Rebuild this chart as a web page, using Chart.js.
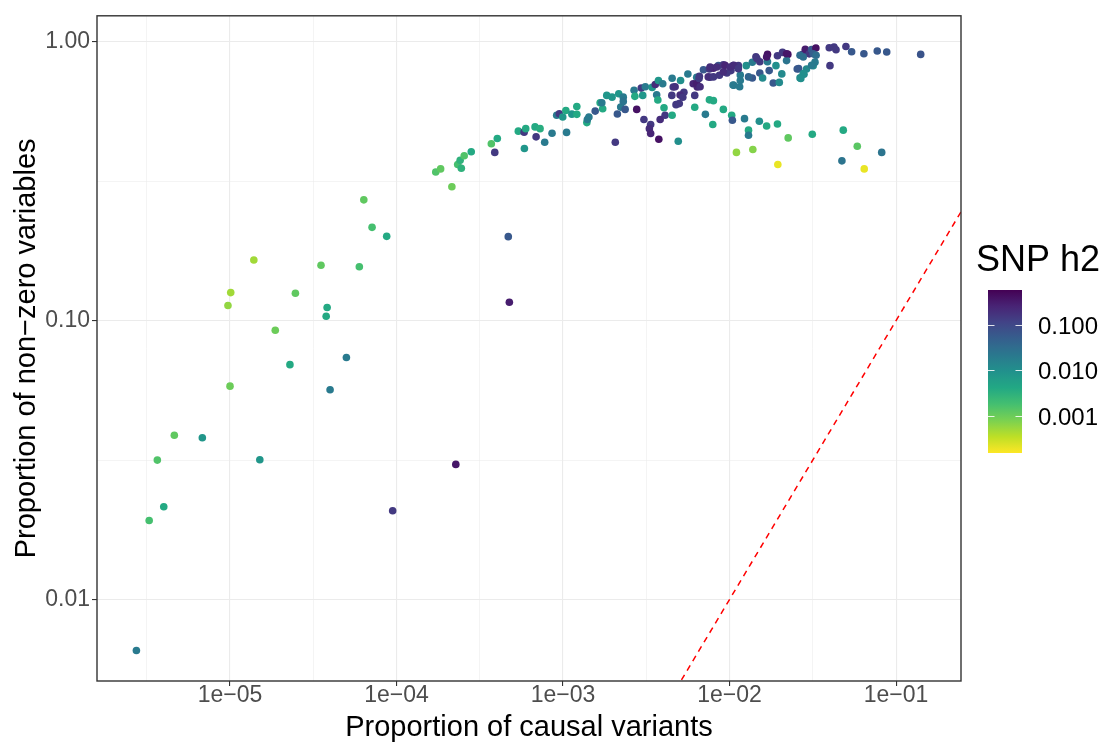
<!DOCTYPE html>
<html>
<head>
<meta charset="utf-8">
<title>SNP h2</title>
<script src="https://cdn.jsdelivr.net/npm/chart.js"></script>
<style>
  html, body { margin: 0; padding: 0; background: #ffffff; }
  canvas { display: block; }
</style>
</head>
<body>
<canvas id="myChart" width="1113" height="745"></canvas>
<script>
// Proporción de variantes causales (eje X)
var proporcionCausal = [
    2.74e-6, 3.27e-6, 3.66e-6, 4.0e-6, 4.63e-6, 6.82e-6, 1.01e-5, 9.72e-6, 1.0e-5, 1.39e-5,
    1.51e-5, 1.87e-5, 2.29e-5, 2.47e-5, 3.52e-5, 3.78e-5, 3.83e-5, 3.99e-5, 5.0e-5, 5.98e-5,
    6.36e-5, 7.13e-5, 8.73e-5, 9.48e-5, 2.27e-4, 4.69e-4, 4.76e-4, 2.15e-4, 1.72e-4, 1.84e-4,
    2.33e-4, 2.45e-4, 2.41e-4, 2.55e-4, 2.81e-4, 3.89e-4, 3.71e-4, 4.03e-4, 5.39e-4, 5.84e-4,
    5.97e-4, 5.86e-4, 6.89e-4, 6.79e-4, 7.28e-4, 7.76e-4, 8.59e-4, 1.05e-3, 9.16e-4, 9.5e-4,
    9.96e-4, 1.04e-3, 1.13e-3, 1.21e-3, 1.21e-3, 1.39e-3, 1.40e-3, 1.43e-3, 1.56e-3, 1.67e-3,
    1.73e-3, 1.71e-3, 1.83e-3, 1.97e-3, 2.06e-3, 2.12e-3, 2.16e-3, 2.22e-3, 2.30e-3, 2.30e-3,
    2.36e-3, 2.67e-3, 2.70e-3, 2.77e-3, 2.95e-3, 3.01e-3, 3.06e-3, 3.12e-3, 3.36e-3, 3.30e-3,
    3.36e-3, 3.43e-3, 3.65e-3, 3.71e-3, 3.76e-3, 3.58e-3, 3.74e-3, 3.97e-3, 4.04e-3, 4.10e-3,
    3.83e-3, 4.52e-3, 4.50e-3, 4.52e-3, 4.59e-3, 4.77e-3, 4.92e-3, 4.99e-3, 5.08e-3, 5.32e-3,
    5.62e-3, 6.05e-3, 6.18e-3, 6.40e-3, 6.35e-3, 6.18e-3, 6.59e-3, 6.97e-3, 7.16e-3, 7.57e-3,
    8.0e-3, 7.93e-3, 7.57e-3, 8.0e-3, 7.64e-3, 8.57e-3, 9.18e-3, 9.18e-3, 9.64e-3, 1.02e-2,
    1.03e-2, 1.04e-2, 1.06e-2, 1.05e-2, 1.13e-2, 1.16e-2, 1.16e-2, 1.23e-2, 1.26e-2, 1.30e-2,
    1.30e-2, 1.37e-2, 1.37e-2, 1.38e-2, 1.10e-2, 1.44e-2, 1.51e-2, 1.52e-2, 1.52e-2, 1.58e-2,
    1.67e-2, 1.69e-2, 1.69e-2, 1.73e-2, 1.83e-2, 1.90e-2, 1.94e-2, 1.94e-2, 1.95e-2, 1.99e-2,
    2.06e-2, 2.08e-2, 2.24e-2, 2.25e-2, 2.20e-2, 2.55e-2, 2.65e-2, 2.75e-2, 2.85e-2, 2.80e-2,
    2.90e-2, 3.01e-2, 3.11e-2, 3.18e-2, 3.26e-2, 3.30e-2, 3.14e-2, 4.01e-2, 3.97e-2, 4.24e-2,
    4.36e-2, 4.73e-2, 4.82e-2, 5.0e-2, 5.41e-2, 5.85e-2, 6.41e-2, 6.44e-2, 7.71e-2, 8.2e-2,
    8.79e-2, 0.1406, 4.71e-3, 5.05e-3, 5.24e-3, 6.35e-3, 6.65e-3, 6.56e-3, 7.64e-3, 7.45e-3,
    8.0e-3, 8.38e-3, 8.69e-3, 9.18e-3, 9.40e-3, 1.01e-2, 1.06e-2, 1.13e-2, 1.05e-2, 1.15e-2,
    1.30e-2, 1.46e-2, 1.67e-2, 2.20e-2, 2.65e-2, 2.77e-2, 3.18e-2, 3.31e-2, 2.60e-2, 2.77e-2,
    2.68e-2, 3.11e-2
];

// Proporción de variables no nulas (eje Y)
var proporcionNoNula = [
    0.00656, 0.0192, 0.0316, 0.0215, 0.0388, 0.038, 0.126, 0.1133, 0.0582, 0.165,
    0.0317, 0.0923, 0.0695, 0.1253, 0.158, 0.1037, 0.1114, 0.0565, 0.0737, 0.156,
    0.271, 0.216, 0.2005, 0.0208, 0.0305, 0.200, 0.1164, 0.302, 0.341, 0.350,
    0.363, 0.352, 0.376, 0.390, 0.403, 0.401, 0.431, 0.450, 0.478, 0.474,
    0.488, 0.414, 0.456, 0.495, 0.488, 0.436, 0.470, 0.473, 0.545, 0.552,
    0.537, 0.567, 0.550, 0.549, 0.586, 0.513, 0.526, 0.537, 0.564, 0.604,
    0.575, 0.604, 0.642, 0.633, 0.436, 0.551, 0.651, 0.583, 0.633, 0.611,
    0.572, 0.670, 0.637, 0.572, 0.682, 0.642, 0.526, 0.690, 0.505, 0.488,
    0.469, 0.686, 0.645, 0.618, 0.447, 0.703, 0.726, 0.707, 0.580, 0.545,
    0.526, 0.740, 0.642, 0.545, 0.688, 0.595, 0.440, 0.600, 0.726, 0.659,
    0.766, 0.707, 0.642, 0.688, 0.746, 0.582, 0.752, 0.794, 0.549, 0.619,
    0.615, 0.505, 0.799, 0.803, 0.746, 0.821, 0.826, 0.572, 0.773, 0.788,
    0.545, 0.523, 0.698, 0.821, 0.821, 0.760, 0.726, 0.530, 0.821, 0.482,
    0.462, 0.741, 0.844, 0.411, 0.401, 0.884, 0.519, 0.848, 0.773, 0.741,
    0.499, 0.901, 0.848, 0.788, 0.711, 0.821, 0.891, 0.507, 0.363, 0.715,
    0.767, 0.916, 0.901, 0.452, 0.856, 0.799, 0.742, 0.901, 0.940, 0.765,
    0.799, 0.905, 0.938, 0.821, 0.845, 0.950, 0.466, 0.821, 0.952, 0.957,
    0.936, 0.374, 0.482, 0.962, 0.921, 0.422, 0.906, 0.350, 0.926, 0.401,
    0.919, 0.901, 0.690, 0.644, 0.632, 0.708, 0.690, 0.738, 0.812, 0.748,
    0.748, 0.812, 0.758, 0.780, 0.823, 0.812, 0.823, 0.801, 0.699, 0.690,
    0.748, 0.870, 0.882, 0.906, 0.894, 0.882, 0.905, 0.894, 0.801, 0.769,
    0.738, 0.823
];

// Heredabilidad SNP de cada rasgo (color)
var snpH2 = [
    0.02, 0.0018, 0.0015, 0.004, 0.0012, 0.008, 0.0005, 0.0006, 0.001, 0.0005,
    0.008, 0.001, 0.004, 0.0012, 0.0012, 0.004, 0.004, 0.02, 0.02, 0.0018,
    0.0012, 0.0018, 0.004, 0.15, 0.35, 0.06, 0.3, 0.001, 0.0015, 0.0012,
    0.0018, 0.003, 0.003, 0.0015, 0.004, 0.15, 0.0015, 0.004, 0.004, 0.15,
    0.004, 0.008, 0.15, 0.004, 0.0035, 0.02, 0.02, 0.02, 0.02, 0.15,
    0.008, 0.004, 0.008, 0.004, 0.004, 0.004, 0.02, 0.02, 0.06, 0.004,
    0.004, 0.02, 0.008, 0.008, 0.15, 0.06, 0.008, 0.02, 0.02, 0.025,
    0.06, 0.02, 0.004, 0.4, 0.15, 0.008, 0.15, 0.02, 0.15, 0.2,
    0.25, 0.008, 0.02, 0.004, 0.4, 0.2, 0.008, 0.02, 0.004, 0.15,
    0.2, 0.02, 0.15, 0.004, 0.15, 0.15, 0.01, 0.15, 0.01, 0.15,
    0.02, 0.25, 0.15, 0.25, 0.02, 0.004, 0.15, 0.06, 0.02, 0.004,
    0.004, 0.004, 0.15, 0.25, 0.15, 0.06, 0.15, 0.004, 0.15, 0.15,
    0.004, 0.06, 0.02, 0.15, 0.15, 0.02, 0.02, 0.02, 0.01, 0.004,
    0.02, 0.06, 0.02, 0.0007, 0.0006, 0.15, 0.01, 0.15, 0.06, 0.012,
    0.004, 0.4, 0.02, 0.06, 0.06, 0.01, 0.15, 0.004, 0.0002, 0.012,
    0.012, 0.15, 0.4, 0.0012, 0.025, 0.06, 0.012, 0.15, 0.3, 0.012,
    0.012, 0.15, 0.06, 0.012, 0.02, 0.4, 0.004, 0.15, 0.15, 0.15,
    0.15, 0.025, 0.004, 0.15, 0.06, 0.0013, 0.06, 0.0002, 0.06, 0.025,
    0.06, 0.07, 0.18, 0.2, 0.15, 0.3, 0.2, 0.15, 0.2, 0.2,
    0.15, 0.2, 0.15, 0.2, 0.25, 0.2, 0.2, 0.15, 0.02, 0.02,
    0.04, 0.15, 0.35, 0.35, 0.03, 0.03, 0.05, 0.03, 0.06, 0.01,
    0.01, 0.02
];

// Línea de referencia y = x (extremos)
var lineaIdentidad = [1e-3, 1];

// Marcas y etiquetas de los ejes
var ticksX = [1e-5, 1e-4, 1e-3, 1e-2, 1e-1];
var etiquetasX = ["1e\u221205", "1e\u221204", "1e\u221203", "1e\u221202", "1e\u221201"];
var ticksY = [0.01, 0.1, 1];
var etiquetasY = ["0.01", "0.10", "1.00"];

// Escala de color (leyenda)
var ticksLeyenda = [0.1, 0.01, 0.001];
var etiquetasLeyenda = ["0.100", "0.010", "0.001"];

// Límites de ejes y de la escala de color
var limitesX = [1.589e-6, 0.2455];
var limitesY = [0.00510, 1.239];
var limitesH2 = [1.55e-4, 0.58];

var fuente = "'Liberation Sans', Arial, Helvetica, sans-serif";
Chart.defaults.font.family = fuente;

// Paleta viridis
var viridis = ["#440154", "#482475", "#414487", "#355f8d", "#2a788e", "#21918c",
               "#22a884", "#44bf70", "#7ad151", "#bddf26", "#fde725"];

function hexARgb(hex) {
    return [parseInt(hex.substr(1, 2), 16), parseInt(hex.substr(3, 2), 16), parseInt(hex.substr(5, 2), 16)];
}

function colorViridis(t) {
    t = Math.max(0, Math.min(1, t));
    var pos = t * (viridis.length - 1);
    var i = Math.min(Math.floor(pos), viridis.length - 2);
    var f = pos - i;
    var a = hexARgb(viridis[i]);
    var b = hexARgb(viridis[i + 1]);
    var c = a.map(function (v, k) {
        return Math.round(v + (b[k] - v) * f);
    });
    return "rgb(" + c[0] + "," + c[1] + "," + c[2] + ")";
}

// Posición relativa (0 = arriba/morado, 1 = abajo/amarillo) en la escala log de h2
function posicionH2(h) {
    var lmax = Math.log10(limitesH2[1]);
    var lmin = Math.log10(limitesH2[0]);
    return (lmax - Math.log10(h)) / (lmax - lmin);
}

// Marcas mayores + menores (punto medio logarítmico) dentro de los límites
function construirTicks(mayores, limites) {
    var lista = [];
    var raiz = Math.sqrt(10);
    mayores.forEach(function (m) {
        lista.push({ value: m, major: true });
        lista.push({ value: m * raiz, major: false });
        lista.push({ value: m / raiz, major: false });
    });
    var vistos = {};
    return lista.filter(function (t) {
        var clave = t.value.toPrecision(6);
        if (vistos[clave] || t.value < limites[0] || t.value > limites[1]) {
            return false;
        }
        vistos[clave] = true;
        return true;
    }).sort(function (a, b) {
        return a.value - b.value;
    });
}

function etiquetaDe(mayores, etiquetas, valor) {
    for (var i = 0; i < mayores.length; i++) {
        if (Math.abs(mayores[i] - valor) / mayores[i] < 1e-6) {
            return etiquetas[i];
        }
    }
    return "";
}

function opcionesRejilla() {
    return {
        color: "#ebebeb",
        lineWidth: function (ctx) {
            return ctx.tick && ctx.tick.major ? 1.1 : 0.55;
        },
        drawTicks: true,
        tickLength: 5,
        tickWidth: 1.1,
        tickColor: function (ctx) {
            return ctx.tick && ctx.tick.major ? "#333333" : "rgba(0,0,0,0)";
        }
    };
}

// Fondo, borde del panel y barra de color
var pluginPanel = {
    id: "panel",
    beforeDraw: function (chart) {
        var c = chart.ctx;
        c.save();
        c.fillStyle = "#ffffff";
        c.fillRect(0, 0, chart.width, chart.height);
        c.restore();
    },
    afterDatasetsDraw: function (chart) {
        var c = chart.ctx;
        var a = chart.chartArea;
        c.save();
        c.strokeStyle = "#333333";
        c.lineWidth = 1.4;
        c.strokeRect(a.left, a.top, a.right - a.left, a.bottom - a.top);
        c.restore();
    },
    afterDraw: function (chart) {
        var c = chart.ctx;
        var barX = 988, barY = 290, barW = 34, barH = 163;
        c.save();

        c.fillStyle = "#000000";
        c.font = "36px " + fuente;
        c.textAlign = "left";
        c.textBaseline = "alphabetic";
        c.fillText("SNP h2", 976, 271);

        var grad = c.createLinearGradient(0, barY, 0, barY + barH);
        for (var i = 0; i <= 20; i++) {
            grad.addColorStop(i / 20, colorViridis(i / 20));
        }
        c.fillStyle = grad;
        c.fillRect(barX, barY, barW, barH);

        c.font = "24px " + fuente;
        c.textBaseline = "middle";
        ticksLeyenda.forEach(function (v, i) {
            var y = Math.round(barY + posicionH2(v) * barH) + 0.5;
            c.strokeStyle = "rgba(255,255,255,0.85)";
            c.lineWidth = 1;
            c.beginPath();
            c.moveTo(barX, y);
            c.lineTo(barX + 6.5, y);
            c.moveTo(barX + barW - 6.5, y);
            c.lineTo(barX + barW, y);
            c.stroke();
            c.fillStyle = "#000000";
            c.fillText(etiquetasLeyenda[i], 1038, y + 2);
        });
        c.restore();
    }
};

var puntos = proporcionCausal.map(function (x, i) {
    return { x: x, y: proporcionNoNula[i] };
});
var coloresPuntos = snpH2.map(function (h) {
    return colorViridis(posicionH2(h));
});

var ctx = document.getElementById("myChart").getContext("2d");
var myChart = new Chart(ctx, {
    type: "scatter",
    data: {
        datasets: [
            {
                label: "Rasgos",
                data: puntos,
                backgroundColor: coloresPuntos,
                borderWidth: 0,
                pointRadius: 3.8,
                pointHoverRadius: 3.8
            },
            {
                label: "y = x",
                data: lineaIdentidad.map(function (v) {
                    return { x: v, y: v };
                }),
                showLine: true,
                borderColor: "#ff0000",
                borderWidth: 1.5,
                borderDash: [6, 5],
                pointRadius: 0,
                fill: false
            }
        ]
    },
    options: {
        responsive: false,
        animation: false,
        devicePixelRatio: 1,
        layout: {
            padding: { left: 0, top: 12, right: 152, bottom: 0 }
        },
        plugins: {
            legend: { display: false },
            tooltip: { enabled: false }
        },
        scales: {
            x: {
                type: "logarithmic",
                min: limitesX[0],
                max: limitesX[1],
                afterBuildTicks: function (scale) {
                    scale.ticks = construirTicks(ticksX, limitesX);
                },
                afterFit: function (scale) {
                    scale.height = 64;
                },
                border: { display: false },
                grid: opcionesRejilla(),
                ticks: {
                    autoSkip: false,
                    maxRotation: 0,
                    padding: -4,
                    color: "#4d4d4d",
                    font: { size: 23 },
                    callback: function (value) {
                        return etiquetaDe(ticksX, etiquetasX, value);
                    }
                },
                title: {
                    display: true,
                    text: "Proportion of causal variants",
                    color: "#000000",
                    font: { size: 29 },
                    padding: { top: 0, bottom: 0 }
                }
            },
            y: {
                type: "logarithmic",
                min: limitesY[0],
                max: limitesY[1],
                afterBuildTicks: function (scale) {
                    scale.ticks = construirTicks(ticksY, limitesY);
                },
                afterFit: function (scale) {
                    scale.width = 97;
                },
                border: { display: false },
                grid: opcionesRejilla(),
                ticks: {
                    autoSkip: false,
                    padding: 2,
                    color: "#4d4d4d",
                    font: { size: 23 },
                    callback: function (value) {
                        return etiquetaDe(ticksY, etiquetasY, value);
                    }
                },
                title: {
                    display: true,
                    text: "Proportion of non\u2212zero variables",
                    color: "#000000",
                    font: { size: 29 },
                    padding: { top: 10, bottom: 0 }
                }
            }
        }
    },
    plugins: [pluginPanel]
});
</script>
</body>
</html>
